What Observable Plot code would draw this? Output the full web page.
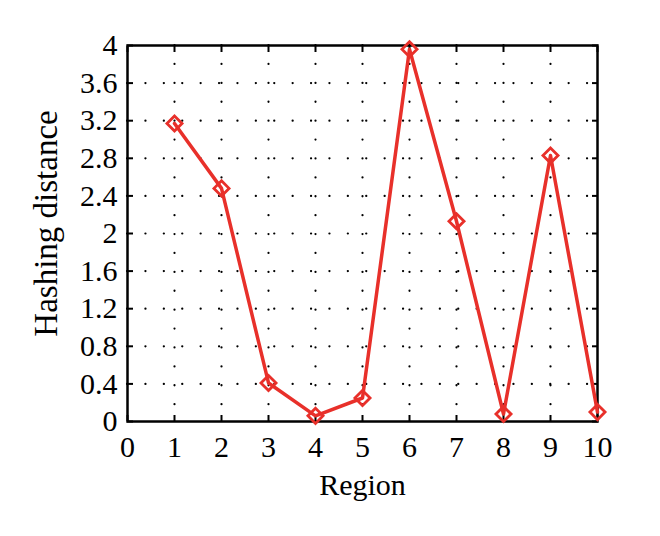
<!DOCTYPE html>
<html>
<head>
<meta charset="utf-8">
<script src="https://cdn.jsdelivr.net/npm/d3@7"></script>
<script src="https://cdn.jsdelivr.net/npm/@observablehq/plot@0.6"></script>
<style>
  html, body { margin: 0; padding: 0; background: #fff; }
  #chart { width: 660px; height: 536px; }
</style>
</head>
<body>
<div id="chart"></div>
<script>
const regions = [1, 2, 3, 4, 5, 6, 7, 8, 9, 10];
const distances = [3.17, 2.48, 0.41, 0.06, 0.25, 3.96, 2.13, 0.08, 2.83, 0.10];
const xTicks = [0, 1, 2, 3, 4, 5, 6, 7, 8, 9, 10];
const yTicks = [0, 0.4, 0.8, 1.2, 1.6, 2, 2.4, 2.8, 3.2, 3.6, 4];
const xLabel = "Region";
const yLabel = "Hashing distance";

const data = regions.map((r, i) => ({region: r, distance: distances[i]}));
const red = "#e8302a";
const gridX = xTicks.filter(t => t > 0 && t < 10);
const gridY = yTicks.filter(t => t > 0 && t < 4);

const chart = Plot.plot({
  width: 660,
  height: 536,
  marginLeft: 127,
  marginRight: 63,
  marginTop: 45,
  marginBottom: 115,
  style: {fontFamily: "'Liberation Serif', serif", fontSize: "29px", color: "#000", background: "#fff"},
  x: {domain: [0, 10]},
  y: {domain: [0, 4]},
  marks: [
    Plot.gridX(gridX, {stroke: "#000", strokeOpacity: 1, strokeWidth: 2.2, strokeDasharray: "0.1,18.8", strokeLinecap: "round"}),
    Plot.gridY(gridY, {stroke: "#000", strokeOpacity: 1, strokeWidth: 2.2, strokeDasharray: "0.1,18.3", strokeLinecap: "round"}),
    // tick labels
    Plot.axisX(xTicks, {anchor: "bottom", tickSize: 0, tickPadding: 14, tickFormat: d => String(d), label: null, fontSize: 30}),
    Plot.axisY(yTicks, {anchor: "left", tickSize: 0, tickPadding: 10, tickFormat: d => String(d), label: null, fontSize: 30}),
    // inward tick marks on all sides
    Plot.axisX(xTicks, {anchor: "bottom", tickSize: 6, dy: -6, text: null, label: null, stroke: "#000", strokeWidth: 2}),
    Plot.axisX(xTicks, {anchor: "top", tickSize: 6, dy: 6, text: null, label: null, stroke: "#000", strokeWidth: 2}),
    Plot.axisY(yTicks, {anchor: "left", tickSize: 6, dx: 6, text: null, label: null, stroke: "#000", strokeWidth: 2}),
    Plot.axisY(yTicks, {anchor: "right", tickSize: 6, dx: -6, text: null, label: null, stroke: "#000", strokeWidth: 2}),
    Plot.frame({stroke: "#000", strokeWidth: 2.5}),
    Plot.line(data, {x: "region", y: "distance", stroke: red, strokeWidth: 3.5}),
    Plot.dot(data, {x: "region", y: "distance", symbol: "diamond2", r: 6.8, stroke: red, strokeWidth: 2.8, fill: "none"}),
    // axis titles
    Plot.text([xLabel], {text: d => d, frameAnchor: "bottom", lineAnchor: "top", dy: 52, fontSize: 30}),
    Plot.text([yLabel], {text: d => d, frameAnchor: "left", textAnchor: "middle", rotate: -90, dx: -81, dy: -10, fontSize: 33})
  ]
});
document.getElementById("chart").appendChild(chart);
</script>
</body>
</html>
